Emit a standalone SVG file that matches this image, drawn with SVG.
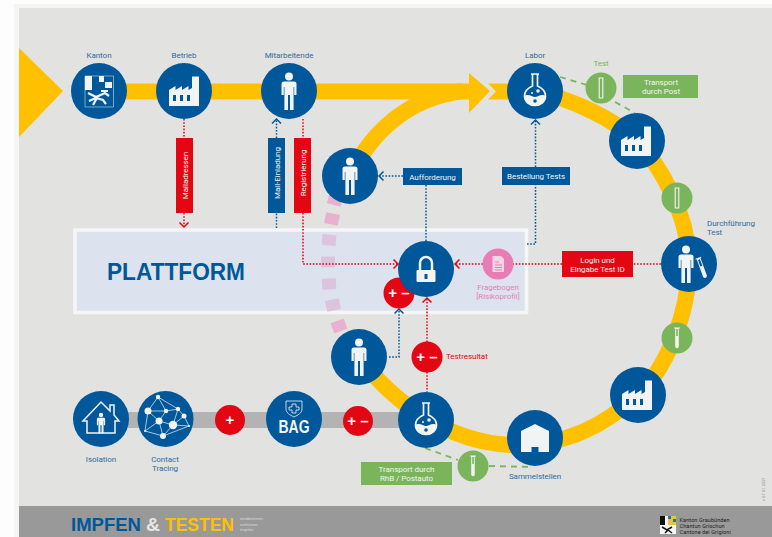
<svg xmlns="http://www.w3.org/2000/svg" width="772" height="537" viewBox="0 0 772 537">
<style>
text{font-family:"Roboto","Liberation Sans",sans-serif;font-size:8px;letter-spacing:-.05px}
.m{text-anchor:middle}
.lb{fill:#2f6c9f}
.w{fill:#f4f4f0}
.b{fill:#00589b}
.r{fill:#e30613}
.g{fill:#7ab55c}
.p{fill:#e87db5}
.pk1{fill:#e9b1d0}
.pk2{fill:#dcc4de}
.yl{fill:none;stroke:#ffc000;stroke-width:16}
.gd{fill:none;stroke:#7ab55c;stroke-width:1.8;stroke-dasharray:6 5}
.dr,.db{fill:none;stroke-width:1.5;stroke-dasharray:1.6 1.6}
.dr{stroke:#e30613}
.db{stroke:#00589b}
.ar{marker-end:url(#cr)}
.ab{marker-end:url(#cb)}
.ic{fill:#f2f3f3}
.pm{font-family:"Liberation Sans",sans-serif;font-weight:700;font-size:15px;fill:#fff;text-anchor:middle;letter-spacing:0}
.big{font-family:"Liberation Sans",sans-serif;font-weight:700;font-size:18px;letter-spacing:0}
.tiny{font-size:4.300px;letter-spacing:0;fill:#d8d8d8}
.kt{font-size:5.500px;letter-spacing:.1px;fill:#222}
</style>
<defs>
<marker id="cr" markerUnits="userSpaceOnUse" markerWidth="8" markerHeight="12" refX="6" refY="6" orient="auto"><path d="M1.5,1.5L6,6L1.5,10.5" fill="none" stroke="#e30613" stroke-width="1.5"/></marker>
<marker id="cb" markerUnits="userSpaceOnUse" markerWidth="8" markerHeight="12" refX="6" refY="6" orient="auto"><path d="M1.5,1.5L6,6L1.5,10.5" fill="none" stroke="#00589b" stroke-width="1.5"/></marker>
<g id="person"><circle cy="-14.5" r="4" class="ic"/><path class="ic" d="M-5,-9.5H5Q7.5,-9.5 7.5,-7V4H5.2V-4H4.6V19H1V4H-1V19H-4.6V-4H-5.2V4H-7.5V-7Q-7.5,-9.5 -5,-9.5Z"/></g>
<g id="factory"><path class="ic" d="M-16,15V-1L-9.500,-5V-1L-3,-5V-1L3.500,-5V-1L7,-3V-14.500H14V15Z"/><path fill="#00589b" d="M-12,4h3v6h-3zM-5,4h3v6h-3zM2,4h3v6h-3z"/></g>
<g id="flask"><path fill="none" stroke="#f2f3f3" stroke-width="1.700" d="M-4,-17H4M-2.500,-17V-5C-7,-3 -10.500,1 -10.500,5C-10.500,11 -5,14.500 0,14.500C5,14.500 10.500,11 10.500,5C10.500,1 7,-3 2.500,-5V-17"/><path class="ic" d="M-11,5C-6,2 -3,6 0,6C3,6 6,2 11,5C11,11 5,15 0,15C-5,15 -11,11 -11,5Z"/><circle cx="3" cy="0" r="1.800" class="ic"/><circle cx="-3" cy="2" r="1" class="ic"/><circle cy="10" r="1.800" fill="#00589b"/></g>
<g id="tube"><path fill="none" stroke="#f2f3f3" stroke-width="1.100" d="M-2.500,-10H2.500M-1.800,-10V10H1.800V-10"/></g>
<g id="tubef"><path class="ic" d="M-3,-10.500H3V-9.500H1.800V9Q0,11.500 -1.800,9V-9.500H-3Z"/><rect x="-.8" y="-9" width="1.600" height="7" fill="#7ab55c"/></g>
</defs>

<rect width="772" height="537" fill="#fdfdfd"/>
<rect x="14" y="4" width="758" height="533" fill="#f5f5f5"/>
<rect x="19" y="8" width="753" height="498" fill="#e2e2e0"/>
<rect x="19" y="506" width="753" height="31" fill="#999"/>

<g id="plattform"><rect x="75" y="230" width="451.500" height="82.500" fill="#dde3ee" stroke="#f6f6f6" stroke-width="3.500"/><text x="107" y="280" style="font-family:'Liberation Sans',sans-serif;font-size:24px;font-weight:700;letter-spacing:0" fill="#00589b" textLength="138" lengthAdjust="spacingAndGlyphs">PLATTFORM</text></g>

<g id="connectors">
<path d="M19,48L63,91L19,137Z" fill="#ffc000"/>
<path fill="#ffc000" d="M99,83.500H469V73L490,91L469,113V99.500H99Z"/>
<path fill="#ffc000" d="M488,83.500H535V99.500H488L496,91.500Z"/>
<path class="yl" d="M350,176C372,130 410,98 462,91"/>
<path class="yl" d="M535,91C575,100 615,120 637,141C660,165 689,215 689,264C689,315 665,370 638,395C605,425 565,447 510,445C450,442 395,405 359,357"/>
<path d="M110,420H410" fill="none" stroke="#b3b3b3" stroke-width="16"/>
<rect class="pk1" x="328" y="194" width="14" height="11" transform="rotate(15 335 200)"/>
<rect class="pk1" x="325" y="213.500" width="14" height="11" transform="rotate(12 332 219)"/>
<rect class="pk2" x="322" y="234.500" width="14" height="11" transform="rotate(5 329 240)"/>
<rect class="pk2" x="321" y="256.500" width="14" height="11"/>
<rect class="pk2" x="322" y="278.500" width="14" height="11" transform="rotate(-4 329 284)"/>
<rect class="pk2" x="326" y="299.500" width="14" height="11" transform="rotate(-12 333 305)"/>
<rect class="pk1" x="332" y="320.500" width="14" height="11" transform="rotate(-20 339 326)"/>
<path class="gd" d="M560,77L587,85M615,102L635,113M425,448L458,460M489,466L532,467"/>
<path class="dr" d="M184,119V138"/>
<path class="dr ar" d="M184,213V227"/>
<path class="db" d="M276.500,228V213"/>
<path class="db ab" d="M276.500,138V119"/>
<path class="dr" d="M303,119V138"/>
<path class="dr ar" d="M303,213V264H398"/>
<path class="db" d="M426,241V185"/>
<path class="db ab" d="M403,176H379"/>
<path class="db" d="M527,244H535.500V185"/>
<path class="db ab" d="M535.500,167V120"/>
<path class="dr" d="M661,264H633"/>
<path class="dr" d="M562,264H513"/>
<path class="dr ar" d="M483,264H455"/>
<path class="dr ar" d="M427,342V298"/>
<path class="dr" d="M427,372V392"/>
<path class="db ab" d="M389,357H399V309"/>
</g>

<g id="kanton"><circle cx="99" cy="91" r="28" class="b"/><text x="99" y="58" class="m lb">Kanton</text>
<rect x="85" y="76" width="7" height="14" class="ic"/><path fill="none" stroke="#f2f3f3" stroke-width=".5" d="M85,76H113.500V107H85Z"/><path class="ic" d="M99,76h5v6h-5zM105,82h7v6h-7z"/><path fill="none" stroke="#f2f3f3" stroke-width="2.200" d="M88,93L96,97L105,93L109,96M89,101L96,98L103,100L106,104M97,98L93,105M101,91L108,91"/></g>
<g id="betrieb"><circle cx="184" cy="91" r="28" class="b"/><text x="184" y="58" class="m lb">Betrieb</text><use href="#factory" transform="translate(185 91)"/></g>
<g id="mitarbeitende"><circle cx="289" cy="91" r="28" class="b"/><text x="289" y="58" class="m lb">Mitarbeitende</text><use href="#person" transform="translate(289 91)"/></g>
<g id="person-aufforderung"><circle cx="350" cy="176" r="28" class="b"/><use href="#person" transform="translate(350 176)"/></g>
<g id="labor"><circle cx="535" cy="91" r="28" class="b"/><text x="535" y="58" class="m lb">Labor</text><use href="#flask" transform="translate(535 91)"/></g>
<g id="test-post"><circle cx="601" cy="88" r="15.500" class="g"/><text x="601" y="66" class="m" fill="#7ab55c">Test</text><use href="#tube" transform="translate(601 88)"/></g>
<g id="transport-post"><rect x="623" y="75" width="75" height="23" class="g"/><text x="661" y="85" class="m w">Transport</text><text x="661" y="94" class="m w">durch Post</text></g>
<g id="factory-1"><circle cx="637" cy="141" r="28" class="b"/><use href="#factory" transform="translate(637 141)"/></g>
<g id="test-2"><circle cx="677" cy="198" r="15.500" class="g"/><use href="#tube" transform="translate(677 198)"/></g>
<g id="durchfuehrung"><circle cx="689" cy="264" r="28" class="b"/><text x="707" y="226" class="lb">Durchführung</text><text x="707" y="235" class="lb">Test</text><use href="#person" transform="translate(686 264)"/><g transform="translate(702 268) rotate(-20)"><path fill="#f2f3f3" d="M-3,-11H3V-10H2V9Q0,12 -2,9V-10H-3Z"/><rect x="-1" y="-9" width="2" height="7" fill="#00589b"/></g></g>
<g id="test-3"><circle cx="677" cy="338" r="15.500" class="g"/><use href="#tubef" transform="translate(677 338)"/></g>
<g id="factory-2"><circle cx="638" cy="395" r="28" class="b"/><use href="#factory" transform="translate(638 395)"/></g>
<g id="sammelstellen"><circle cx="535" cy="438" r="28" class="b"/><text x="535" y="479" class="m lb">Sammelstellen</text><path class="ic" d="M521,452V431L535,424L549,431V452H538.500V447H531.500V452Z"/></g>
<g id="test-4"><circle cx="473" cy="466" r="15.500" class="g"/><use href="#tubef" transform="translate(473 466)"/></g>
<g id="transport-rhb"><rect x="361" y="462" width="91" height="23" class="g"/><text x="406.500" y="472" class="m w">Transport durch</text><text x="406.500" y="481" class="m w">RhB / Postauto</text></g>
<g id="labor-2"><circle cx="426" cy="420" r="28" class="b"/><use href="#flask" transform="translate(426 420)"/></g>
<g id="person-result"><circle cx="359" cy="357" r="28" class="b"/><use href="#person" transform="translate(359 357)"/></g>
<g id="testresultat"><circle cx="427" cy="357" r="15.500" class="r"/><text x="427" y="362" class="pm">+ –</text><text x="446" y="359" class="r">Testresultat</text></g>
<g id="plusminus-plattform"><circle cx="399" cy="293" r="15.500" class="r"/><text x="399" y="298" class="pm">+ –</text></g>
<g id="schloss"><circle cx="426" cy="269" r="28" class="b"/><path fill="none" stroke="#f2f3f3" stroke-width="2.500" d="M420,271V263A6,6 0 0 1 432,263V271"/><rect x="416.500" y="270" width="19" height="12" rx="1" class="ic"/><path fill="#00589b" d="M424.500,274h3v5h-3z"/></g>
<g id="fragebogen"><circle cx="498" cy="264" r="15.500" class="p"/><path fill="#f6d5e6" d="M492.500,256H501L504,259V272H492.500Z"/><path fill="none" stroke="#e87db5" d="M495,262H499M495,265H502M495,267.500H502M495,270H502"/><text x="498" y="290" class="m p">Fragebogen</text><text x="498" y="299" class="m p">[Risikoprofil]</text></g>
<g id="isolation"><circle cx="101" cy="419" r="28" class="b"/><text x="101" y="462" class="m lb">Isolation</text><path fill="none" stroke="#f2f3f3" stroke-width="1.500" d="M87,421H83L101,402L110,411V405H114V415L119,421H115V433H87Z"/><use href="#person" transform="translate(101 423) scale(.55)"/></g>
<g id="contact-tracing"><circle cx="165.500" cy="419" r="28" class="b"/><text x="165" y="462" class="m lb">Contact</text><text x="165" y="471" class="m lb">Tracing</text>
<path fill="none" stroke="#f2f3f3" stroke-width=".7" d="M158,397L148,411L145,431L163,436L189,426L184,416L178,409L158,397L166,411L148,411L159,421L145,431M166,411L178,409L173,425L184,416M166,411L159,421L173,425L163,436L159,421M173,425L189,426"/>
<g class="ic"><circle cx="158" cy="397" r="2.200"/><circle cx="148" cy="411" r="3.500"/><circle cx="166" cy="411" r="2.200"/><circle cx="178" cy="409" r="2.200"/><circle cx="184" cy="416" r="2.500"/><circle cx="159" cy="421" r="3.500"/><circle cx="173" cy="425" r="4.200"/><circle cx="163" cy="436" r="3"/><circle cx="145" cy="431" r="1"/><circle cx="189" cy="426" r="1"/></g></g>
<g id="plus"><circle cx="230" cy="420" r="15" class="r"/><text x="230" y="425" class="pm">+</text></g>
<g id="bag"><circle cx="294" cy="419" r="28" class="b"/><path fill="none" stroke="#f2f3f3" stroke-width=".8" d="M286,401H302V409C302,413 298,415 294,417C290,415 286,413 286,409ZM292,404H296V407H299V410H296V413H292V410H289V407H292Z"/><text x="278.500" y="433" style="font-family:'Liberation Sans',sans-serif;font-weight:700;font-size:19px;letter-spacing:0" fill="#f4f4f0" textLength="31" lengthAdjust="spacingAndGlyphs">BAG</text></g>
<g id="plusminus-bag"><circle cx="358" cy="421" r="15" class="r"/><text x="358" y="426" class="pm">+ –</text></g>

<g id="mailadressen"><rect x="176" y="138" width="17" height="75" class="r"/><text transform="translate(187.500 175.500) rotate(-90)" class="m w">Mailadressen</text></g>
<g id="mail-einladung"><rect x="268" y="138" width="17" height="75" class="b"/><text transform="translate(279.500 173) rotate(-90)" class="m w">Mail-Einladung</text></g>
<g id="registrierung"><rect x="294" y="138" width="17" height="75" class="r"/><text transform="translate(305.500 173) rotate(-90)" class="m w">Registrierung</text></g>
<g id="aufforderung"><rect x="403" y="168" width="59" height="17" class="b"/><text x="432.500" y="179.500" class="m w">Aufforderung</text></g>
<g id="bestellung"><rect x="502" y="167" width="68" height="18" class="b"/><text x="536" y="179" class="m w">Bestellung Tests</text></g>
<g id="login"><rect x="562" y="251" width="71" height="26" class="r"/><text x="597.500" y="263" class="m w">Login und</text><text x="597.500" y="272" class="m w">Eingabe Test ID</text></g>

<g id="footer">
<text x="71" y="531" class="big" fill="#00589b" textLength="70" lengthAdjust="spacingAndGlyphs">IMPFEN</text>
<text x="146" y="531" class="big" fill="#e6e6e6" textLength="14" lengthAdjust="spacingAndGlyphs">&amp;</text>
<text x="165" y="531" class="big" fill="#ffc000" textLength="69" lengthAdjust="spacingAndGlyphs">TESTEN</text>
<text x="240" y="520" class="tiny">eindämmen.</text><text x="240" y="525.500" class="tiny">schützen.</text><text x="240" y="531" class="tiny">impfen.</text>
<rect x="660" y="516" width="16" height="18" fill="#f4f4f4"/><rect x="660" y="516" width="5" height="9" fill="#111"/><path fill="#2a6fa8" d="M668,516h3v3h-3zM673,519h3v3h-3z"/><path fill="#e6c02a" d="M671,516h5v3h-5zM668,519h5v3h-5zM668,522h8v3h-8z" opacity=".9"/><path fill="none" stroke="#111" stroke-width="1.500" d="M662,527L667,530L672,527M668,530L665,533M668,530L672,533"/>
<text x="679.500" y="522" class="kt">Kanton Graubünden</text>
<text x="679.500" y="528" class="kt">Chantun Grischun</text>
<text x="679.500" y="534" class="kt">Cantone dei Grigioni</text>
</g>
<text transform="translate(765 501) rotate(-90)" style="font-size:3.800px;letter-spacing:.2px" fill="#888">v 07 01 2021</text>
</svg>
